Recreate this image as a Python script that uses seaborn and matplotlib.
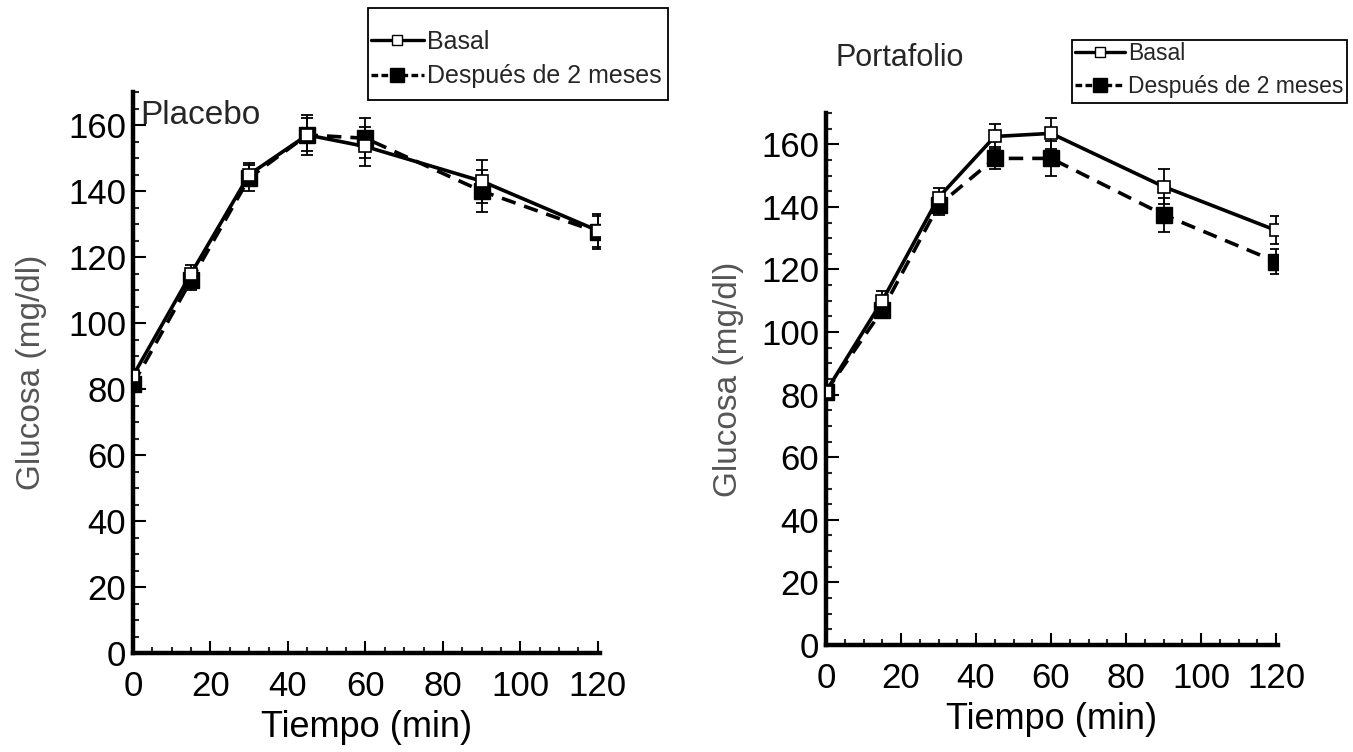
import matplotlib
matplotlib.use("Agg")
import matplotlib.pyplot as plt
from matplotlib.ticker import MultipleLocator
from matplotlib.lines import Line2D
from matplotlib.patches import Rectangle
import seaborn as sns
import pandas as pd
import numpy as np

# ---- data ----
tiempo = [0, 15, 30, 45, 60, 90, 120]
placebo_basal = [84, 115, 145, 157, 153.5, 143, 128]
placebo_basal_se = [2, 2.5, 3.5, 5, 6, 6.5, 5]
placebo_despues = [81.5, 113, 144, 157, 156, 140, 127.5]
placebo_despues_se = [2, 3, 4, 6, 6, 6.5, 5]
porta_basal = [81, 110, 143, 162.5, 163.5, 146.5, 132.5]
porta_basal_se = [2, 3, 3, 4, 5, 5.5, 4.5]
porta_despues = [81, 107, 140.5, 155.5, 155.5, 137.5, 122.5]
porta_despues_se = [2, 2.5, 3, 3.5, 5.5, 5.5, 4]
serie_labels = ["Basal", "Después de 2 meses"]
x_ticks = [0, 20, 40, 60, 80, 100, 120]
y_ticks = [0, 20, 40, 60, 80, 100, 120, 140, 160]

sns.set_theme(style="white")
plt.rcParams['font.family'] = ['Liberation Sans', 'DejaVu Sans']

W, H = 1353, 752
fig = plt.figure(figsize=(W / 100, H / 100), dpi=100)
ax1 = fig.add_axes([0.0983, 0.1316, 0.345, 0.746])
ax2 = fig.add_axes([0.6105, 0.1423, 0.334, 0.7074])

def draw(ax, basal, bse, desp, dse, ylpad):
    df = pd.DataFrame({
        "t": tiempo * 2,
        "g": basal + desp,
        "serie": [serie_labels[0]] * len(tiempo) + [serie_labels[1]] * len(tiempo),
    })
    sns.lineplot(data=df, x="t", y="g", hue="serie", style="serie",
                 palette=["black", "black"], dashes=[(None, None), (4, 2.5)],
                 markers=["s", "s"], ax=ax, legend=False, lw=2.6,
                 markersize=0, zorder=3)
    ax.errorbar(tiempo, basal, yerr=bse, fmt="none", ecolor="black",
                elinewidth=1.3, capsize=4, capthick=1.3, zorder=2)
    ax.errorbar(tiempo, desp, yerr=dse, fmt="none", ecolor="black",
                elinewidth=1.3, capsize=4, capthick=1.3, zorder=2)
    ax.plot(tiempo, desp, ls="none", marker="s", ms=11, mfc="black",
            mec="black", zorder=4)
    ax.plot(tiempo, basal, ls="none", marker="s", ms=8, mfc="white",
            mec="black", mew=1.2, zorder=5)
    ax.set_xlim(0, 120.5)
    ax.set_ylim(0, 170)
    ax.set_xticks(x_ticks)
    ax.set_yticks(y_ticks)
    ax.xaxis.set_minor_locator(MultipleLocator(5))
    ax.yaxis.set_minor_locator(MultipleLocator(5))
    ax.tick_params(which="major", direction="in", length=9, width=1.5,
                   labelsize=25, colors="black", left=True, bottom=True)
    ax.tick_params(axis="x", which="major", pad=12)
    ax.tick_params(axis="y", which="major", pad=5)
    ax.tick_params(which="minor", direction="in", length=4, width=1.5,
                   left=True, bottom=True)
    for s in ["top", "right"]:
        ax.spines[s].set_visible(False)
    for s in ["left", "bottom"]:
        ax.spines[s].set_linewidth(3.2)
        ax.spines[s].set_color("black")
    ax.set_xlabel("Tiempo (min)", fontsize=26, color="black", labelpad=5)
    ax.set_ylabel("Glucosa (mg/dl)", fontsize=24, color="#555555",
                  labelpad=ylpad)
    ax.patch.set_alpha(0)

draw(ax1, placebo_basal, placebo_basal_se, placebo_despues, placebo_despues_se, 15)
draw(ax2, porta_basal, porta_basal_se, porta_despues, porta_despues_se, 12)

ax1.text(0.015, 0.985, "Placebo", transform=ax1.transAxes, fontsize=24,
         va="top", ha="left")
fig.text(835 / W, 1 - 58 / H, "Portafolio", fontsize=22, va="center", ha="left")

handles = [
    Line2D([], [], color="black", lw=2.4, marker="s", ms=7, mfc="white", mec="black"),
    Line2D([], [], color="black", lw=2.4, ls=(0, (2, 1)), marker="s", ms=10, mfc="black"),
]
# (box x0, y0, x1, y1 in px), text center y, font size, labelspacing, handlelength
legend_specs = [
    ((368, 8, 668, 100), 59, 18, 0.42, 2.1),
    ((1072, 40, 1347, 103), 70, 16.5, 0.45, 2.2),
]
for (x0, y0, x1, y1), yc, fs, ls, hl in legend_specs:
    fig.add_artist(Rectangle((x0 / W, 1 - y1 / H), (x1 - x0) / W, (y1 - y0) / H,
                             transform=fig.transFigure, fill=False,
                             ec="black", lw=1.3))
    fig.legend(handles, serie_labels, loc="center left",
               bbox_to_anchor=((x0 + 3) / W, 1 - yc / H),
               bbox_transform=fig.transFigure, fontsize=fs, frameon=False,
               handlelength=hl, handletextpad=0.12, borderpad=0,
               labelspacing=ls, borderaxespad=0)

fig.savefig("out.png", dpi=100, facecolor="white")
